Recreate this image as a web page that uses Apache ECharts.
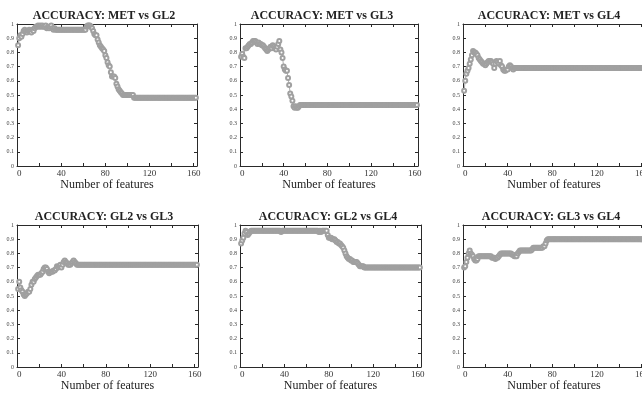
<!DOCTYPE html>
<html>
<head>
<meta charset="utf-8">
<script src="https://cdn.jsdelivr.net/npm/echarts@6/dist/echarts.min.js"></script>
<style>
  html, body { margin: 0; padding: 0; background: #fff; }
  #chart { width: 642px; height: 397px; }
</style>
</head>
<body>
<div id="chart"></div>
<script>
// accuracy for feature counts 1..162
var titles = [
  'ACCURACY: MET vs GL2', 'ACCURACY: MET vs GL3', 'ACCURACY: MET vs GL4',
  'ACCURACY: GL2 vs GL3', 'ACCURACY: GL2 vs GL4', 'ACCURACY: GL3 vs GL4'
];
var xTicks = [0, 40, 80, 120, 160];

var metGl2 = [
  0.85,0.90,0.92,0.91,0.93,0.95,0.96,0.95,0.94,0.95,
  0.96,0.95,0.94,0.96,0.95,0.97,0.98,0.98,0.99,0.98,
  0.99,0.98,0.99,0.98,0.98,0.99,0.97,0.98,0.97,0.98,
  0.99,0.97,0.96,0.97,0.96,0.96,0.96,0.96,0.96,0.96,
  0.96,0.96,0.96,0.96,0.96,0.96,0.96,0.96,0.96,0.96,
  0.96,0.96,0.96,0.96,0.96,0.96,0.96,0.96,0.96,0.96,
  0.96,0.96,0.98,0.99,0.99,0.99,0.98,0.97,0.95,0.93,
  0.92,0.92,0.89,0.87,0.85,0.84,0.83,0.82,0.81,0.78,
  0.76,0.73,0.71,0.70,0.66,0.63,0.63,0.63,0.62,0.58,
  0.56,0.54,0.53,0.52,0.51,0.50,0.50,0.50,0.50,0.50,
  0.50,0.50,0.50,0.50,0.50,0.48,0.48,0.48,0.48,0.48,
  0.48,0.48,0.48,0.48,0.48,0.48,0.48,0.48,0.48,0.48,
  0.48,0.48,0.48,0.48,0.48,0.48,0.48,0.48,0.48,0.48,
  0.48,0.48,0.48,0.48,0.48,0.48,0.48,0.48,0.48,0.48,
  0.48,0.48,0.48,0.48,0.48,0.48,0.48,0.48,0.48,0.48,
  0.48,0.48,0.48,0.48,0.48,0.48,0.48,0.48,0.48,0.48,
  0.48,0.48
];

var metGl3 = [
  0.77,0.79,0.77,0.76,0.83,0.83,0.84,0.85,0.86,0.86,
  0.87,0.88,0.88,0.88,0.87,0.86,0.87,0.86,0.86,0.85,
  0.85,0.84,0.83,0.82,0.81,0.82,0.83,0.84,0.83,0.85,
  0.84,0.83,0.82,0.84,0.86,0.88,0.82,0.80,0.76,0.70,
  0.68,0.67,0.67,0.62,0.57,0.51,0.49,0.46,0.42,0.41,
  0.42,0.41,0.41,0.42,0.43,0.43,0.43,0.43,0.43,0.43,
  0.43,0.43,0.43,0.43,0.43,0.43,0.43,0.43,0.43,0.43,
  0.43,0.43,0.43,0.43,0.43,0.43,0.43,0.43,0.43,0.43,
  0.43,0.43,0.43,0.43,0.43,0.43,0.43,0.43,0.43,0.43,
  0.43,0.43,0.43,0.43,0.43,0.43,0.43,0.43,0.43,0.43,
  0.43,0.43,0.43,0.43,0.43,0.43,0.43,0.43,0.43,0.43,
  0.43,0.43,0.43,0.43,0.43,0.43,0.43,0.43,0.43,0.43,
  0.43,0.43,0.43,0.43,0.43,0.43,0.43,0.43,0.43,0.43,
  0.43,0.43,0.43,0.43,0.43,0.43,0.43,0.43,0.43,0.43,
  0.43,0.43,0.43,0.43,0.43,0.43,0.43,0.43,0.43,0.43,
  0.43,0.43,0.43,0.43,0.43,0.43,0.43,0.43,0.43,0.43,
  0.43,0.43
];

var metGl4 = [
  0.53,0.60,0.65,0.67,0.69,0.72,0.75,0.78,0.81,0.80,
  0.80,0.79,0.78,0.76,0.75,0.74,0.73,0.72,0.72,0.71,
  0.72,0.73,0.74,0.74,0.74,0.73,0.72,0.69,0.72,0.74,
  0.73,0.72,0.74,0.71,0.70,0.68,0.67,0.67,0.68,0.68,
  0.70,0.71,0.70,0.69,0.68,0.69,0.69,0.69,0.69,0.69,
  0.69,0.69,0.69,0.69,0.69,0.69,0.69,0.69,0.69,0.69,
  0.69,0.69,0.69,0.69,0.69,0.69,0.69,0.69,0.69,0.69,
  0.69,0.69,0.69,0.69,0.69,0.69,0.69,0.69,0.69,0.69,
  0.69,0.69,0.69,0.69,0.69,0.69,0.69,0.69,0.69,0.69,
  0.69,0.69,0.69,0.69,0.69,0.69,0.69,0.69,0.69,0.69,
  0.69,0.69,0.69,0.69,0.69,0.69,0.69,0.69,0.69,0.69,
  0.69,0.69,0.69,0.69,0.69,0.69,0.69,0.69,0.69,0.69,
  0.69,0.69,0.69,0.69,0.69,0.69,0.69,0.69,0.69,0.69,
  0.69,0.69,0.69,0.69,0.69,0.69,0.69,0.69,0.69,0.69,
  0.69,0.69,0.69,0.69,0.69,0.69,0.69,0.69,0.69,0.69,
  0.69,0.69,0.69,0.69,0.69,0.69,0.69,0.69,0.69,0.69,
  0.69,0.69
];

var gl2Gl3 = [
  0.55,0.60,0.56,0.54,0.53,0.51,0.50,0.51,0.52,0.53,
  0.53,0.55,0.58,0.60,0.60,0.62,0.63,0.64,0.65,0.65,
  0.65,0.66,0.67,0.69,0.70,0.70,0.69,0.67,0.66,0.67,
  0.67,0.67,0.68,0.68,0.69,0.71,0.70,0.71,0.72,0.70,
  0.72,0.74,0.75,0.74,0.73,0.72,0.72,0.72,0.73,0.74,
  0.75,0.74,0.73,0.72,0.72,0.72,0.72,0.72,0.72,0.72,
  0.72,0.72,0.72,0.72,0.72,0.72,0.72,0.72,0.72,0.72,
  0.72,0.72,0.72,0.72,0.72,0.72,0.72,0.72,0.72,0.72,
  0.72,0.72,0.72,0.72,0.72,0.72,0.72,0.72,0.72,0.72,
  0.72,0.72,0.72,0.72,0.72,0.72,0.72,0.72,0.72,0.72,
  0.72,0.72,0.72,0.72,0.72,0.72,0.72,0.72,0.72,0.72,
  0.72,0.72,0.72,0.72,0.72,0.72,0.72,0.72,0.72,0.72,
  0.72,0.72,0.72,0.72,0.72,0.72,0.72,0.72,0.72,0.72,
  0.72,0.72,0.72,0.72,0.72,0.72,0.72,0.72,0.72,0.72,
  0.72,0.72,0.72,0.72,0.72,0.72,0.72,0.72,0.72,0.72,
  0.72,0.72,0.72,0.72,0.72,0.72,0.72,0.72,0.72,0.72,
  0.72,0.72
];

var gl2Gl4 = [
  0.87,0.89,0.91,0.94,0.96,0.95,0.93,0.94,0.95,0.96,
  0.96,0.96,0.96,0.96,0.96,0.96,0.96,0.96,0.96,0.96,
  0.96,0.96,0.96,0.96,0.96,0.96,0.96,0.96,0.96,0.96,
  0.96,0.96,0.96,0.96,0.96,0.96,0.95,0.96,0.96,0.96,
  0.96,0.96,0.96,0.96,0.96,0.96,0.96,0.96,0.96,0.96,
  0.96,0.96,0.96,0.96,0.96,0.96,0.96,0.96,0.96,0.96,
  0.96,0.96,0.96,0.96,0.96,0.96,0.96,0.96,0.96,0.96,
  0.95,0.96,0.95,0.96,0.96,0.96,0.96,0.96,0.93,0.91,
  0.91,0.91,0.90,0.90,0.90,0.89,0.88,0.88,0.87,0.87,
  0.86,0.85,0.84,0.82,0.80,0.78,0.77,0.76,0.76,0.75,
  0.75,0.74,0.74,0.74,0.74,0.73,0.72,0.71,0.71,0.71,
  0.71,0.70,0.70,0.70,0.70,0.70,0.70,0.70,0.70,0.70,
  0.70,0.70,0.70,0.70,0.70,0.70,0.70,0.70,0.70,0.70,
  0.70,0.70,0.70,0.70,0.70,0.70,0.70,0.70,0.70,0.70,
  0.70,0.70,0.70,0.70,0.70,0.70,0.70,0.70,0.70,0.70,
  0.70,0.70,0.70,0.70,0.70,0.70,0.70,0.70,0.70,0.70,
  0.70,0.70
];

var gl3Gl4 = [
  0.70,0.71,0.74,0.77,0.80,0.82,0.80,0.79,0.78,0.76,
  0.75,0.75,0.76,0.78,0.78,0.78,0.78,0.78,0.78,0.78,
  0.78,0.78,0.78,0.78,0.78,0.77,0.77,0.77,0.76,0.77,
  0.77,0.78,0.79,0.80,0.80,0.80,0.80,0.80,0.80,0.80,
  0.80,0.80,0.80,0.79,0.79,0.78,0.78,0.78,0.80,0.81,
  0.82,0.82,0.82,0.82,0.82,0.82,0.82,0.82,0.82,0.82,
  0.82,0.83,0.84,0.84,0.84,0.84,0.84,0.84,0.84,0.84,
  0.84,0.85,0.85,0.87,0.89,0.90,0.90,0.90,0.90,0.90,
  0.90,0.90,0.90,0.90,0.90,0.90,0.90,0.90,0.90,0.90,
  0.90,0.90,0.90,0.90,0.90,0.90,0.90,0.90,0.90,0.90,
  0.90,0.90,0.90,0.90,0.90,0.90,0.90,0.90,0.90,0.90,
  0.90,0.90,0.90,0.90,0.90,0.90,0.90,0.90,0.90,0.90,
  0.90,0.90,0.90,0.90,0.90,0.90,0.90,0.90,0.90,0.90,
  0.90,0.90,0.90,0.90,0.90,0.90,0.90,0.90,0.90,0.90,
  0.90,0.90,0.90,0.90,0.90,0.90,0.90,0.90,0.90,0.90,
  0.90,0.90,0.90,0.90,0.90,0.90,0.90,0.90,0.90,0.90,
  0.90,0.90
];

var seriesData = [metGl2, metGl3, metGl4, gl2Gl3, gl2Gl4, gl3Gl4];

// panel boxes (px); titleX places each panel title (title padding shifts it ~5px right)
var boxes = [
  { left: 17, top: 24, width: 180, titleX: 99 },
  { left: 240, top: 24, width: 178, titleX: 317 },
  { left: 463, top: 24, width: 182, titleX: 544 },
  { left: 17, top: 225, width: 181, titleX: 99 },
  { left: 240, top: 225, width: 181, titleX: 323 },
  { left: 463, top: 225, width: 182, titleX: 546 }
];
var boxHeight = 142;
var serif = "'Liberation Serif', 'DejaVu Serif', serif";
var ink = '#2a2a2a';

var chart = echarts.init(document.getElementById('chart'), null, { renderer: 'canvas' });

var option = {
  animation: false,
  backgroundColor: '#fff',
  title: [],
  grid: [],
  xAxis: [],
  yAxis: [],
  series: []
};

boxes.forEach(function (b, i) {
  option.grid.push({
    left: b.left, top: b.top, width: b.width, height: boxHeight,
    outerBoundsMode: 'none'
  });

  option.title.push({
    text: titles[i],
    left: b.titleX,
    top: b.top - 19,
    textAlign: 'center',
    textStyle: { fontFamily: serif, fontSize: 12, fontWeight: 'bold', color: '#222' }
  });

  var tick = { show: true, inside: true, length: 3, lineStyle: { color: ink, width: 1 } };
  var line = { show: true, onZero: false, lineStyle: { color: ink, width: 1 } };

  // bottom axis with labels
  option.xAxis.push({
    gridIndex: i, type: 'value', position: 'bottom',
    min: 0, max: 163, interval: 20,
    axisLine: line, axisTick: tick, splitLine: { show: false },
    axisLabel: {
      margin: 3, fontFamily: serif, fontSize: 9, color: '#333',
      alignMinLabel: 'left',
      formatter: function (v) { return xTicks.indexOf(v) >= 0 ? String(v) : ''; }
    },
    name: 'Number of features', nameLocation: 'middle', nameGap: 11,
    nameTextStyle: { fontFamily: serif, fontSize: 12, color: '#222' }
  });
  // top edge of the box
  option.xAxis.push({
    gridIndex: i, type: 'value', position: 'top',
    min: 0, max: 163, interval: 20,
    axisLine: line, axisTick: tick, splitLine: { show: false },
    axisLabel: { show: false }
  });
  option.yAxis.push({
    gridIndex: i, type: 'value', position: 'left',
    min: 0, max: 1, interval: 0.1,
    axisLine: line, axisTick: tick, splitLine: { show: false },
    axisLabel: { margin: 3, fontFamily: serif, fontSize: 6, color: '#444' }
  });
  option.yAxis.push({
    gridIndex: i, type: 'value', position: 'right',
    min: 0, max: 1, interval: 0.1,
    axisLine: line, axisTick: tick, splitLine: { show: false },
    axisLabel: { show: false }
  });

  option.series.push({
    type: 'line',
    xAxisIndex: i * 2,
    yAxisIndex: i * 2,
    data: seriesData[i].map(function (v, k) { return [k + 1, v]; }),
    symbol: 'emptyCircle',
    symbolSize: 4,
    showSymbol: true,
    lineStyle: { color: '#8a8a8a', width: 0.7 },
    itemStyle: { color: '#a0a0a0', borderColor: '#a0a0a0', borderWidth: 0.7 },
    emphasis: { disabled: true }
  });
});

chart.setOption(option);
</script>
</body>
</html>
